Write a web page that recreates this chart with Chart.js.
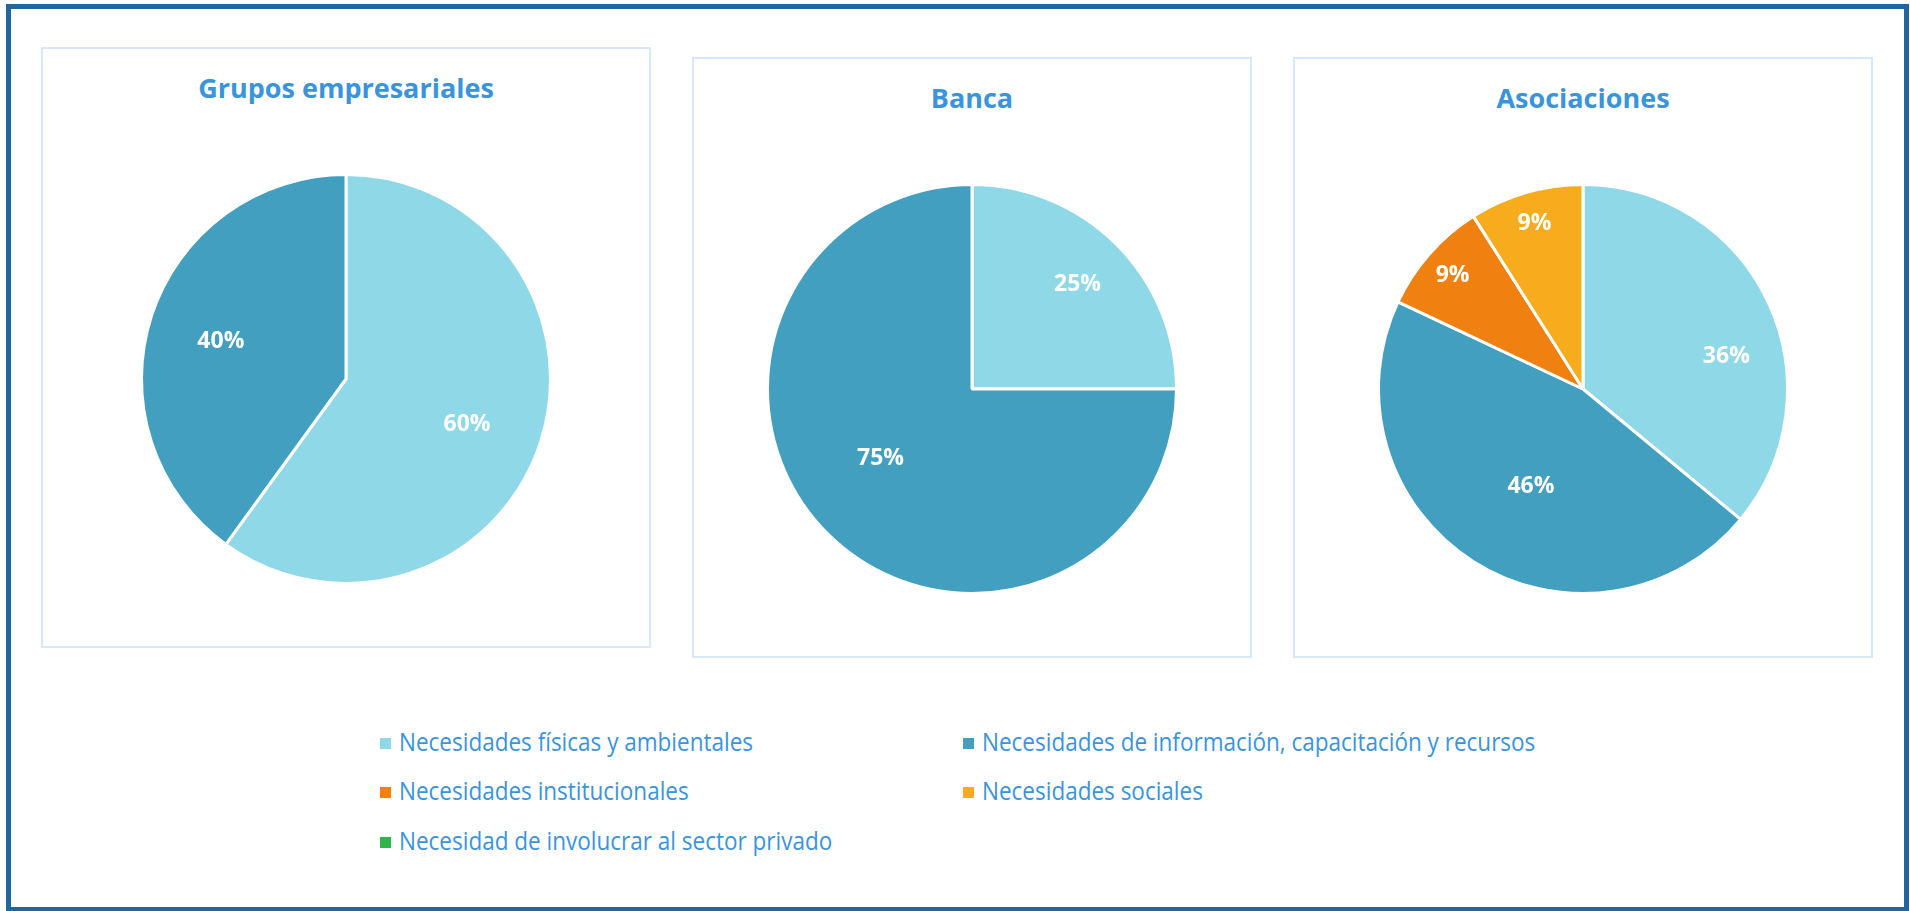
<!DOCTYPE html>
<html>
<head>
<meta charset="utf-8">
<script src="https://cdn.jsdelivr.net/npm/chart.js@4.4.1/dist/chart.umd.min.js"></script>
<style>
  html, body { margin: 0; padding: 0; background: #ffffff; }
  body { width: 1910px; height: 911px; position: relative; overflow: hidden; }
  #frame { position: absolute; left: 6px; top: 4px; width: 1893px; height: 898px; border: 5px solid #22669f; }
  .panel { position: absolute; border: 2px solid #d7e9f8; box-sizing: border-box; }
  .ptitle { position: absolute; left: 0; right: 0; top: 20px; text-align: center; line-height: 37px;
            font-family: "Open Sans", Lato, sans-serif; font-weight: 700; font-size: 27px; color: #3a94dc; }
  .panel canvas { position: absolute; left: 0; }
  .lm { position: absolute; width: 11px; height: 11px; }
  .lt { position: absolute; white-space: nowrap; font-family: "Open Sans", sans-serif; font-size: 25px;
        line-height: 34px; color: #3a94dc; transform: scaleX(0.9); transform-origin: left center; }
</style>
</head>
<body>
<div id="frame"></div>
<div id="panels"></div>
<div id="legend"></div>
<script>
// ---- data ----
const categories = [
  'Necesidades físicas y ambientales',
  'Necesidades de información, capacitación y recursos',
  'Necesidades institucionales',
  'Necesidades sociales',
  'Necesidad de involucrar al sector privado'
];
const chartTitles = ['Grupos empresariales', 'Banca', 'Asociaciones'];
const gruposValues = [60, 40, 0, 0, 0];
const bancaValues = [25, 75, 0, 0, 0];
const asociacionesValues = [36, 46, 9, 9, 0];
const sliceColors = ['#8ed8e8', '#429fbf', '#f0800f', '#f6ac1d', '#2fb44a'];

// ---- styling / layout (not data) ----
const panelBoxes = [
  { left: 41, top: 47, width: 610, height: 601 },
  { left: 692, top: 57, width: 560, height: 601 },
  { left: 1293, top: 57, width: 580, height: 601 }
];
// label placement per slice: radius as fraction of pie radius, angle nudge in degrees
const labelRadius = [
  [0.63, 0.64, 0.86, 0.86, 0.86],
  [0.73, 0.56, 0.86, 0.86, 0.86],
  [0.72, 0.535, 0.85, 0.85, 0.85]
];
const labelNudge = [
  [2, -1, 0, 0, 0],
  [0, 8, 0, 0, 0],
  [12, -4, 0, 0, 0]
];
const seriesList = [gruposValues, bancaValues, asociacionesValues];

function makeLabelPlugin(k) {
  return {
    id: 'sliceLabels' + k,
    afterDatasetsDraw(chart) {
      const ctx = chart.ctx;
      const meta = chart.getDatasetMeta(0);
      const data = chart.data.datasets[0].data;
      ctx.save();
      ctx.fillStyle = '#ffffff';
      ctx.font = '700 23px "Open Sans", Lato, sans-serif';
      ctx.textAlign = 'center';
      ctx.textBaseline = 'middle';
      meta.data.forEach((arc, i) => {
        const v = data[i];
        if (!v) return;
        const p = arc.getProps(['x', 'y', 'startAngle', 'endAngle', 'outerRadius'], true);
        const mid = (p.startAngle + p.endAngle) / 2 + labelNudge[k][i] * Math.PI / 180;
        const r = p.outerRadius * labelRadius[k][i];
        ctx.fillText(v + '%', p.x + Math.cos(mid) * r, p.y + Math.sin(mid) * r + 1);
      });
      ctx.restore();
    }
  };
}

const panelsEl = document.getElementById('panels');
panelBoxes.forEach((b, k) => {
  const div = document.createElement('div');
  div.className = 'panel';
  div.style.left = b.left + 'px';
  div.style.top = b.top + 'px';
  div.style.width = b.width + 'px';
  div.style.height = b.height + 'px';
  const t = document.createElement('div');
  t.className = 'ptitle';
  t.textContent = chartTitles[k];
  div.appendChild(t);
  const cv = document.createElement('canvas');
  const innerW = b.width - 4;
  cv.width = innerW; cv.height = 412;
  cv.style.width = innerW + 'px'; cv.style.height = '412px';
  cv.style.top = (330 - 206) + 'px';
  div.appendChild(cv);
  panelsEl.appendChild(div);
  new Chart(cv.getContext('2d'), {
    type: 'pie',
    data: {
      labels: categories,
      datasets: [{
        data: seriesList[k],
        backgroundColor: sliceColors,
        borderColor: '#ffffff',
        borderWidth: 3
      }]
    },
    options: {
      responsive: false,
      animation: false,
      events: [],
      layout: { padding: 0 },
      plugins: { legend: { display: false }, tooltip: { enabled: false }, title: { display: false } }
    },
    plugins: [makeLabelPlugin(k)]
  });
});

// ---- legend ----
const legendEl = document.getElementById('legend');
const legendOrigin = { x: 380, y: 743.5 };
const legendCol = 583, legendRow = 49.3;
const legendCells = [[0, 0], [1, 0], [0, 1], [1, 1], [0, 2]];
categories.forEach((c, i) => {
  const cx = legendOrigin.x + legendCells[i][0] * legendCol;
  const cy = legendOrigin.y + legendCells[i][1] * legendRow;
  const m = document.createElement('div');
  m.className = 'lm';
  m.style.background = sliceColors[i];
  m.style.left = cx + 'px';
  m.style.top = (cy - 5.5) + 'px';
  legendEl.appendChild(m);
  const t = document.createElement('div');
  t.className = 'lt';
  t.textContent = c;
  t.style.left = (cx + 19) + 'px';
  t.style.top = (cy - 19.6) + 'px';
  legendEl.appendChild(t);
});
</script>
</body>
</html>
